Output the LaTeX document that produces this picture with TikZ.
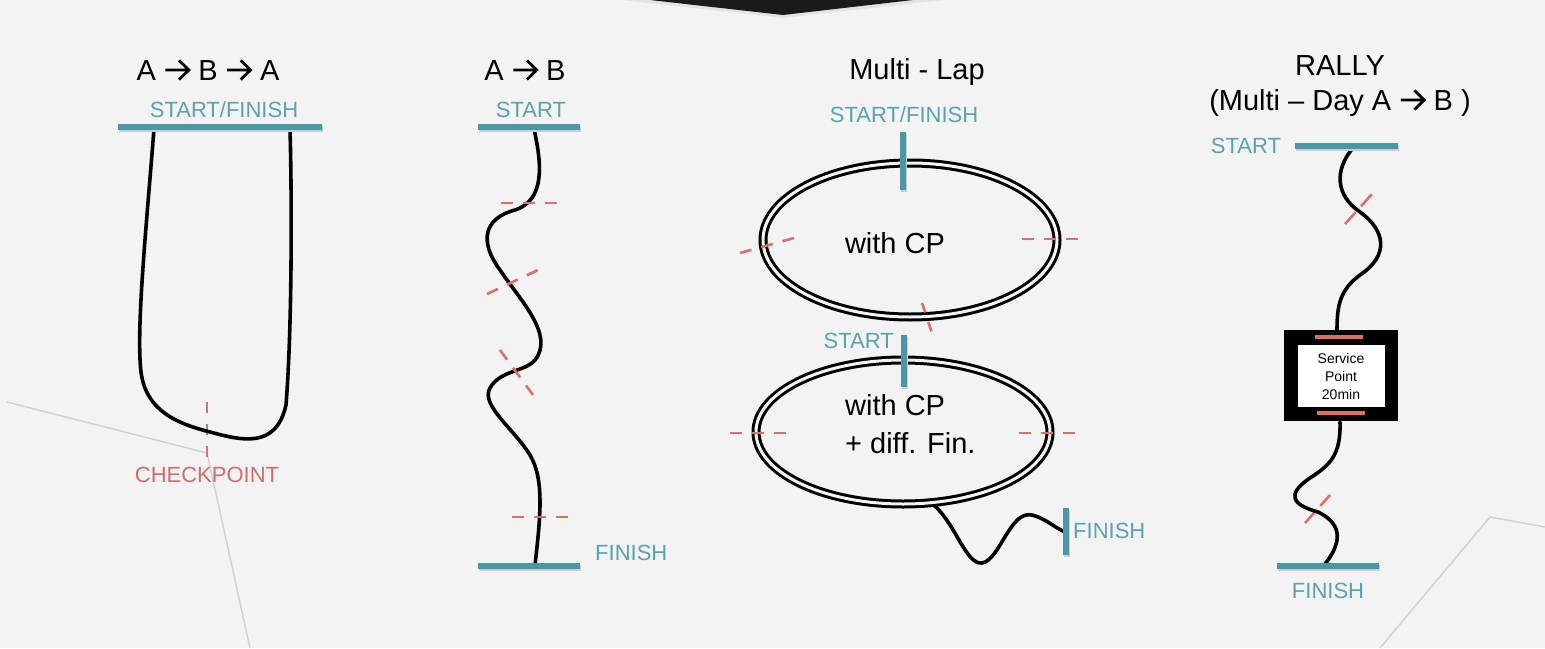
\documentclass[tikz,border=0pt]{standalone}
\usepackage{fontspec}
\setmainfont{Liberation Sans}
\newcommand{\ar}{\tikz[x=1em,y=1em,baseline=0pt]{\draw[line width=0.095em, line join=miter, line cap=butt] (0,0.36)--(0.8,0.36) (0.47,0.69)--(0.81,0.36)--(0.47,0.03);}}
\definecolor{bgc}{HTML}{F3F3F3}
\definecolor{tealbar}{HTML}{4A98A5}
\definecolor{tealtext}{HTML}{5AA2AD}
\definecolor{cpred}{HTML}{D9706A}
\definecolor{cptext}{HTML}{CF6E6B}
\definecolor{bgline}{HTML}{D2D2D2}
\definecolor{darktop}{HTML}{1A1A1A}
\definecolor{shadowc}{HTML}{C9CDCE}
\begin{document}
\begin{tikzpicture}[x=1pt,y=-1pt,
  bar/.style={draw=tealbar, line width=6pt, preaction={draw=shadowc, line width=6pt, transform canvas={shift={(1pt,-2pt)}}}},
  track/.style={draw=black, line width=3.6pt, line cap=round},
  cpline/.style={draw=cpred, line width=2.6pt, dash pattern=on 12pt off 10pt},
  title/.style={font=\fontsize{29}{35}\selectfont, text=black, inner sep=0pt, align=center},
  tlabel/.style={font=\fontsize{22}{26}\selectfont, text=tealtext, inner sep=0pt},
  rlabel/.style={font=\fontsize{22}{26}\selectfont, text=cptext, inner sep=0pt},
  lap/.style={draw=black, line width=9pt},
  lapgap/.style={draw=bgc, line width=3pt},
  lapt/.style={font=\fontsize{29}{38}\selectfont, text=black, inner sep=0pt, align=left},
  bgl/.style={draw=bgline, line width=1.5pt}]
\useasboundingbox (0,0) rectangle (1545,648);
\fill[bgc] (0,0) rectangle (1545,648);
% background decoration
\fill[gray!22] (622,0) -- (783,18) -- (943,0) -- cycle;
\fill[darktop] (650,0) -- (783,15) -- (913,0) -- cycle;
\draw[bgl] (7,402) -- (207,453) -- (250,648);
\draw[bgl] (1380,648) -- (1490,517) -- (1545,527);

% ---------- Panel 1: A -> B -> A
\node[title] (t1) at (208,70) {A \ar{} B \ar{} A};
\node[tlabel] (sf1) at (224,110) {START/FINISH};
\coordinate (b1l) at (118,127); \coordinate (b1r) at (322,127);
\draw[cpline, dash pattern=on 11pt off 11pt] (207,402) coordinate (c1a) -- (207,457) coordinate (c1b);
\draw[track] (154,129) .. controls (146,230) and (136,330) .. (141,372)
  .. controls (146,410) and (175,423) .. (210,432)
  .. controls (240,440) and (276,450) .. (286,405)
  .. controls (292,330) and (292,200) .. (290,129);
\draw[bar] (b1l) -- (b1r);
\node[rlabel] (cp1) at (207,475) {CHECKPOINT};

% ---------- Panel 2: A -> B
\node[title] (t2) at (525,70) {A \ar{} B};
\node[tlabel] (s2) at (531,110) {START};
\coordinate (b2l) at (478,127); \coordinate (b2r) at (580,127);
\coordinate (f2l) at (478,566); \coordinate (f2r) at (580,566);
\draw[track] (534,129) .. controls (542,165) and (545,200) .. (515,210)
  .. controls (485,218) and (478,240) .. (500,270)
  .. controls (520,300) and (555,335) .. (535,360)
  .. controls (525,372) and (500,370) .. (490,388)
  .. controls (480,405) and (515,430) .. (530,455)
  .. controls (545,480) and (540,520) .. (535,565);
\draw[cpline] (501,203) -- (557,203);
\draw[cpline] (487,294) -- (538,270);
\draw[cpline] (500,350) -- (533,395);
\draw[cpline] (512,517) -- (568,517);
\draw[bar] (b2l) -- (b2r);
\draw[bar] (f2l) -- (f2r);
\node[tlabel, anchor=west] (f2) at (595,553) {FINISH};

% ---------- Panel 3: Multi-Lap
\node[title] (t3) at (917,72) {Multi - Lap};
\node[tlabel] (sf3) at (904,115) {START/FINISH};
\draw[lap] (910,240) ellipse [x radius=147, y radius=77];
\draw[lapgap] (910,240) ellipse [x radius=147, y radius=77];
\node[lapt] (w1) at (895,243) {with CP};
\draw[cpline] (740,253) -- (794,238);
\draw[cpline] (1022,239) -- (1078,239);
\draw[cpline, dash pattern=on 10pt off 10pt] (922,303) -- (932,333);
\draw[bar] (903,132) -- (903,190);

\draw[track] (930,502) .. controls (955,520) and (965,565) .. (982,563)
  .. controls (1000,560) and (1010,510) .. (1032,515)
  .. controls (1045,518) and (1055,528) .. (1065,532);
\draw[lap] (903,432) ellipse [x radius=147, y radius=72];
\draw[lapgap] (903,432) ellipse [x radius=147, y radius=72];
\node[lapt, anchor=west] (w2) at (845,424) {with CP\\+ diff. Fin.};
\draw[cpline] (730,433) -- (786,433);
\draw[cpline] (1019,433) -- (1075,433);
\draw[bar] (904,335) -- (904,387);
\node[tlabel, anchor=east] (s3) at (894,341) {START};
\draw[bar] (1066,508) -- (1066,555);
\node[tlabel, anchor=west] (f3) at (1073,531) {FINISH};

% ---------- Panel 4: RALLY
\node[title] (t4) at (1340,86) {RALLY\\(Multi – Day A \ar{} B )};
\node[tlabel] (s4) at (1246,146) {START};
\draw[cpline, dash pattern=on 16pt off 8pt] (1345,224) -- (1372,194);
\draw[track] (1352,149) .. controls (1335,170) and (1335,195) .. (1360,212)
  .. controls (1385,230) and (1390,255) .. (1360,275)
  .. controls (1340,290) and (1337,305) .. (1337,330);
\draw[bar] (1295,146) -- (1398,146);
\fill[black] (1284,330) rectangle (1398,421);
\fill[white] (1298,345) rectangle (1385,407);
\draw[cpred, line width=4pt] (1315,337) -- (1363,337);
\draw[cpred, line width=4pt] (1317,413) -- (1365,413);
\node[font=\fontsize{14}{18}\selectfont, align=center, inner sep=0pt] (sp) at (1341,376) {Service\\Point\\20min};
\draw[cpline, dash pattern=on 15pt off 8pt] (1305,523) -- (1330,495);
\draw[track] (1340,422) .. controls (1341,455) and (1330,465) .. (1310,478)
  .. controls (1285,495) and (1293,505) .. (1318,512)
  .. controls (1345,525) and (1340,545) .. (1325,564);
\draw[bar] (1277,566) -- (1379,566);
\node[tlabel] (f4) at (1328,591) {FINISH};
\end{tikzpicture}
\end{document}
